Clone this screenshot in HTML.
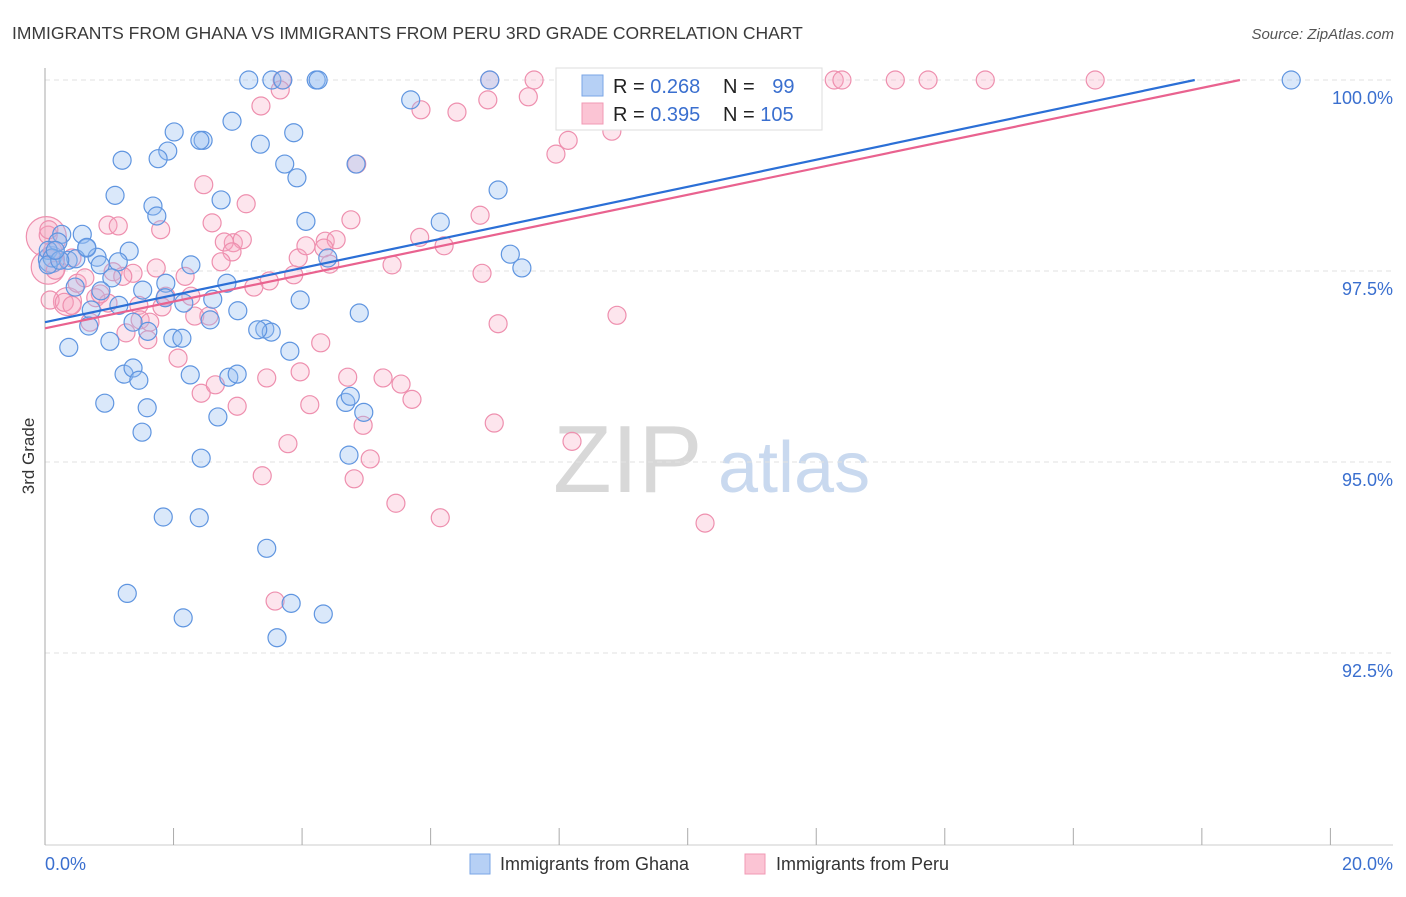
<!DOCTYPE html>
<html><head><meta charset="utf-8"><style>
body{margin:0;background:#fff;font-family:"Liberation Sans",sans-serif;}
svg text{font-family:"Liberation Sans",sans-serif;}
</style></head><body>
<svg id="chart" width="1406" height="892" viewBox="0 0 1406 892" xmlns="http://www.w3.org/2000/svg">
<text x="12" y="39" font-size="17.5" fill="#3a3a3a">IMMIGRANTS FROM GHANA VS IMMIGRANTS FROM PERU 3RD GRADE CORRELATION CHART</text>
<text x="1394" y="39" font-size="15" fill="#555" text-anchor="end" font-style="italic">Source: ZipAtlas.com</text>
<g>
<text x="553" y="492" font-size="96" fill="#d8d8d8" font-family="Liberation Serif, serif">ZIP</text>
<text x="718" y="492" font-size="72" fill="#c9d9ef">atlas</text>
</g>
<g id="grid"></g>
<g id="axes"></g>
<g id="pts"></g>
<g id="trends"></g>
<text transform="translate(34,456) rotate(-90)" font-size="17" fill="#333" text-anchor="middle">3rd Grade</text>
<g>
<rect x="556" y="68" width="266" height="62" fill="#fff" stroke="#ddd"/>
<rect x="582" y="75" width="21" height="21" fill="#b6d0f5" stroke="#7aa6e6"/>
<rect x="582" y="103" width="21" height="21" fill="#fbc4d4" stroke="#f09ab4"/>
<text x="613" y="93" font-size="20" fill="#222">R = <tspan fill="#3a6fcf">0.268</tspan></text>
<text x="723" y="93" font-size="20" fill="#222">N = <tspan fill="#3a6fcf" dx="12">99</tspan></text>
<text x="613" y="121" font-size="20" fill="#222">R = <tspan fill="#3a6fcf">0.395</tspan></text>
<text x="723" y="121" font-size="20" fill="#222">N = <tspan fill="#3a6fcf">105</tspan></text>
</g>
<g>
<rect x="470" y="854" width="20" height="20" fill="#b6d0f5" stroke="#7aa6e6"/>
<text x="500" y="870" font-size="18" fill="#333">Immigrants from Ghana</text>
<rect x="745" y="854" width="20" height="20" fill="#fbc4d4" stroke="#f09ab4"/>
<text x="776" y="870" font-size="18" fill="#333">Immigrants from Peru</text>
</g>
</svg>
<script>
const yTicks=[100,97.5,95,92.5];
const yTickLabels=["100.0%","97.5%","95.0%","92.5%"];
const xTickValues=[0,2,4,6,8,10,12,14,16,18,20];
const xEndLabels=["0.0%","20.0%"];
const ghanaX=[3.17,3.53,3.70,4.22,4.25,6.92,8.22,19.39,8.57,5.69,2.91,2.01,3.87,1.91,2.46,3.35,1.20,1.76,3.73,3.92,4.84,1.09,2.74,1.68,1.74,4.06,6.15,7.05,0.58,0.26,0.20,0.65,1.31,0.05,0.11,0.81,0.36,1.14,0.86,0.48,7.24,7.42,4.40,2.27,1.04,2.83,1.52,0.47,0.87,2.61,3.97,1.88,1.87,1.15,2.16,0.72,3.00,2.57,1.37,4.89,0.68,1.60,3.42,3.52,3.31,1.99,2.13,1.01,3.81,0.37,1.23,1.37,1.46,2.26,2.86,2.99,0.93,1.59,4.68,4.75,4.96,2.69,1.51,4.73,2.43,1.84,2.40,3.45,1.28,3.83,2.15,4.33,3.61,0.65,2.41,0.05,0.23,0.16];
const ghanaY=[100,100,100,100,100,100,100,100,99.97,99.74,99.46,99.32,99.31,99.07,99.21,99.16,98.95,98.97,98.90,98.72,98.90,98.49,98.43,98.35,98.22,98.15,98.14,98.56,97.98,97.98,97.88,97.80,97.76,97.77,97.67,97.68,97.64,97.62,97.58,97.66,97.72,97.54,97.67,97.58,97.41,97.34,97.25,97.29,97.24,97.13,97.12,97.34,97.15,97.05,97.08,96.99,96.98,96.86,96.83,96.95,96.78,96.71,96.74,96.70,96.73,96.62,96.62,96.58,96.45,96.50,96.15,96.23,96.07,96.14,96.11,96.15,95.77,95.71,95.78,95.86,95.65,95.59,95.39,95.09,95.05,94.28,94.27,93.87,93.28,93.15,92.96,93.01,92.70,97.81,99.21,97.58,97.64,97.77];
const peruX=[3.69,6.92,7.61,8.73,9.51,10.36,11.16,12.28,12.40,13.23,13.74,14.63,16.34,3.66,6.89,7.52,5.85,6.41,3.36,8.14,8.82,7.95,4.85,2.47,3.13,0.98,1.14,1.80,2.60,4.76,6.77,5.83,6.21,4.36,4.53,4.34,3.94,4.06,2.93,2.79,3.07,2.91,2.74,0.42,0.12,0.05,0.16,1.06,1.37,1.73,2.18,3.49,3.25,3.87,5.40,6.80,7.05,8.90,0.08,0.30,0.42,0.79,0.50,0.98,1.46,1.88,2.27,1.48,1.26,1.60,2.07,2.33,2.55,1.63,3.45,3.97,2.99,2.43,2.65,4.71,5.26,5.54,5.71,4.12,4.95,6.99,8.20,3.78,5.06,4.81,3.38,5.46,6.15,10.27,3.58,1.82,0.70,0.62,4.43,4.29,0.06,0.86,1.21];
const peruY=[100,100,100,100,100,100,100,100,100,100,100,100,100,99.87,99.74,99.78,99.61,99.58,99.66,99.21,99.33,99.03,98.90,98.63,98.38,98.10,98.09,98.04,98.13,98.17,98.23,97.94,97.83,97.89,97.91,97.80,97.67,97.83,97.87,97.88,97.91,97.75,97.62,97.67,97.77,97.97,97.51,97.49,97.47,97.54,97.43,97.37,97.29,97.45,97.58,97.47,96.81,96.92,97.12,97.09,97.05,97.15,97.34,97.08,97.05,97.17,97.17,96.86,96.69,96.60,96.36,96.91,96.91,96.83,96.10,96.18,95.73,95.90,96.01,96.11,96.10,96.02,95.82,95.75,95.48,95.51,95.27,95.24,95.04,94.78,94.82,94.46,94.27,94.20,93.18,97.03,96.83,97.41,97.59,96.56,98.04,97.20,97.43];
const bigX=[0.02,0.05,0.10,0.35];
const bigY=[97.95,97.55,97.65,97.10];
const bigR=[20,17,13,14];
const bigSeries=["peru","peru","ghana","peru"];
const ghanaTrend=[96.83,0.1772];
const peruTrend=[96.75,0.1748];

const X0=45,XPX=64.27,Y100=80,YPX=76.4;
const sx=v=>X0+v*XPX;
const sy=v=>Y100+(100-v)*YPX;
const NS="http://www.w3.org/2000/svg";
function mk(tag,attrs,parent){const e=document.createElementNS(NS,tag);for(const k in attrs)e.setAttribute(k,attrs[k]);parent.appendChild(e);return e;}
const grid=document.getElementById('grid'),axes=document.getElementById('axes'),pts=document.getElementById('pts'),trends=document.getElementById('trends');
yTicks.forEach((t,i)=>{
  const l=mk('line',{x1:45,x2:1393,y1:sy(t),y2:sy(t),stroke:'#e2e2e2','stroke-dasharray':'5,4'},grid);
  
  
  const tx=mk('text',{x:1393,y:sy(t)+24,'font-size':18,fill:'#3a6fcf','text-anchor':'end'},axes);
  tx.textContent=yTickLabels[i];
  
  
});
const ax=mk('line',{x1:45,x2:45,y1:68,y2:845,stroke:'#aaa'},axes);


const bx=mk('line',{x1:45,x2:1393,y1:845,y2:845,stroke:'#ccc'},axes);


xTickValues.forEach(v=>{
  const t=mk('line',{x1:sx(v),x2:sx(v),y1:828,y2:845,stroke:'#aaa'},axes);
  
  
});
const xl0=mk('text',{x:45,y:870,'font-size':18,fill:'#3a6fcf'},axes);xl0.textContent=xEndLabels[0];


const xl1=mk('text',{x:1393,y:870,'font-size':18,fill:'#3a6fcf','text-anchor':'end'},axes);xl1.textContent=xEndLabels[1];


const styles={ghana:{fill:'rgba(150,190,240,0.35)',stroke:'#5f95e0'},peru:{fill:'rgba(248,170,195,0.3)',stroke:'#ee8fae'}};
function dot(x,y,r,s){
  const c=mk('circle',{cx:sx(x),cy:sy(y),r:r,fill:styles[s].fill,stroke:styles[s].stroke,'stroke-width':1.2},pts);
  
  
}
bigX.forEach((x,i)=>dot(x,bigY[i],bigR[i],bigSeries[i]));
peruX.forEach((x,i)=>dot(x,peruY[i],9,'peru'));
ghanaX.forEach((x,i)=>dot(x,ghanaY[i],9,'ghana'));
function trend(p,color,name){
  const xEnd=Math.min(20.97,(100-p[0])/p[1]);
  const l=mk('line',{x1:sx(0),y1:sy(p[0]),x2:sx(xEnd),y2:sy(p[0]+p[1]*xEnd),stroke:color,'stroke-width':2.2},trends);
  
  
}
trend(ghanaTrend,'#2b6fd6','ghana-trend-line');
trend(peruTrend,'#e9628f','peru-trend-line');
</script>
</body></html>
